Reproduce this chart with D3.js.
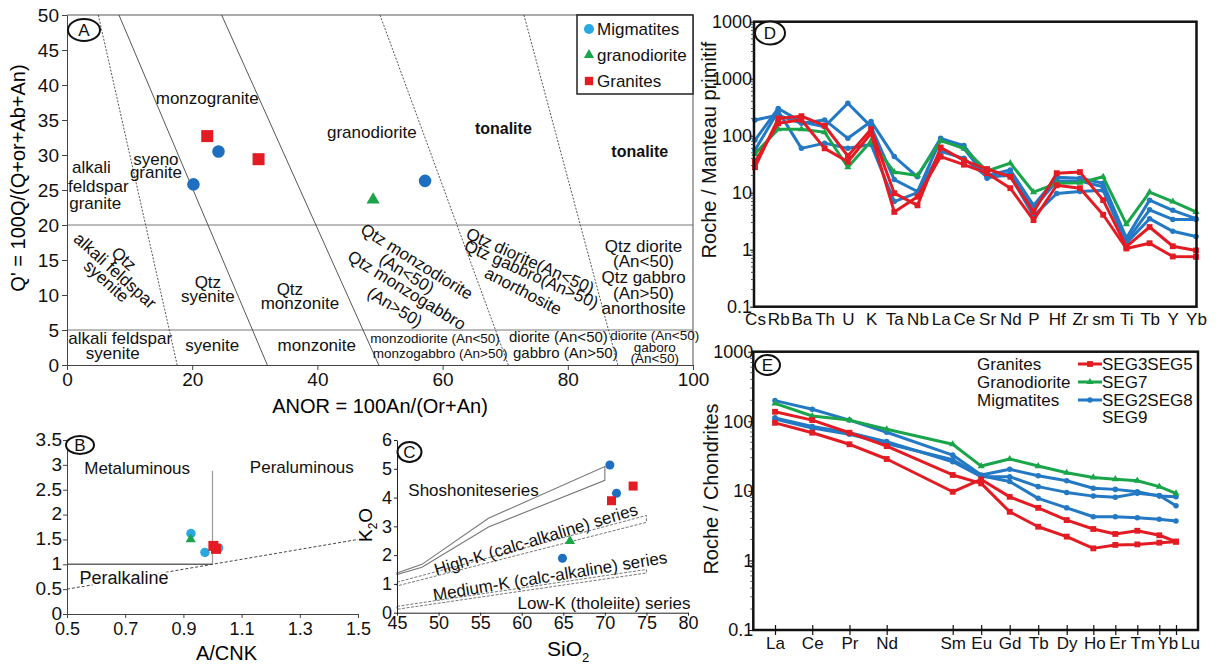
<!DOCTYPE html>
<html>
<head>
<meta charset="utf-8">
<script src="https://cdn.jsdelivr.net/npm/d3@7"></script>
<style>
  body { margin: 0; background: #fff; }
  svg { display: block; }
</style>
</head>
<body>
<svg width="1222" height="667"></svg>
<script>
// ---------- data ----------
// A : ANOR vs Q'
const anorTicks = [0, 20, 40, 60, 80, 100];
const qTicks = [0, 5, 10, 15, 20, 25, 30, 35, 40, 45, 50];
const legendA = ["Migmatites", "granodiorite", "Granites"];
const migAnor = [20.2, 24.2, 57.2];
const migQ = [25.8, 30.5, 26.3];
const grdAnor = [48.9];
const grdQ = [23.6];
const graAnor = [22.4, 30.6];
const graQ = [32.7, 29.4];
// field boundaries : anor at Q'=50, Q'=50, anor at Q'=0, Q'=0
const fieldLinesA = [[5, 50, 17.6, 0], [8.3, 50, 32, 0], [24.7, 50, 49.8, 0], [50, 50, 70.5, 0], [73, 50, 88, 0]];
const qLevelsA = [20, 5];

// B : A/CNK vs A/NK
const acnkTicks = [0.5, 0.7, 0.9, 1.1, 1.3, 1.5];
const ankTicks = [0, 0.5, 1, 1.5, 2, 2.5, 3, 3.5];
const migAcnk = [0.926, 0.974, 1.021];
const migAnk = [1.62, 1.24, 1.33];
const grdAcnk = [0.925];
const grdAnk = [1.5];
const graAcnk = [1.003, 1.012];
const graAnk = [1.37, 1.31];

// C : SiO2 vs K2O
const sioTicks = [45, 50, 55, 60, 65, 70, 75, 80];
const k2oTicks = [0, 1, 2, 3, 4, 5, 6];
const migSio = [70.6, 71.4, 64.9];
const migK = [5.13, 4.15, 1.89];
const grdSio = [65.8];
const grdK = [2.49];
const graSio = [70.8, 73.4];
const graK = [3.89, 4.4];
const shoshBand = [[45, 1.38], [48, 1.68], [56, 3.28], [70, 5.08], [70, 4.6], [56, 2.98], [48, 1.58], [45, 1.33]];
const highKBand = [[45, 1.06], [75, 3.38], [75, 3.14], [45, 0.93]];
const medKBand = [[45, 0.22], [75, 1.5], [75, 1.38], [45, 0.12]];

// D : primitive-mantle normalised spider diagram
const spiderElems = ["Cs", "Rb", "Ba", "Th", "U", "K", "Ta", "Nb", "La", "Ce", "Sr", "Nd", "P", "Hf", "Zr", "sm", "Ti", "Tb", "Y", "Yb"];
const spiderTickVals = [0.1, 1, 10, 100, 1000, 10000];
const spiderTickLabels = ["0.1", "1", "10", "100", "1000", "1000"];
const seg3D = [28, 200, 220, 150, 44, 130, 9.8, 6, 62, 37, 26, 19, 4.6, 22, 23, 7.4, 1.13, 2.5, 1.15, 0.97];
const seg5D = [35, 165, 190, 60, 35, 110, 4.6, 8.5, 43, 31, 22, 12, 3.3, 13.5, 12, 4.1, 1.05, 1.3, 0.76, 0.75];
const seg7D = [48, 130, 130, 115, 28, 80, 23, 20, 82, 60, 24, 33, 10.2, 14.6, 15, 19, 2.8, 10.2, 7, 4.6];
const seg2D = [188, 230, 165, 189, 90, 178, 43, 19, 90, 67, 20, 25, 6, 18.6, 18, 14.6, 1.6, 7.4, 4.9, 3.5];
const seg8D = [84, 300, 175, 144, 370, 144, 17, 10.5, 85, 60, 18, 22, 5.3, 16, 16, 12.7, 1.4, 5, 3.4, 3.4];
const seg9D = [56, 270, 60, 74, 60, 70, 7, 10, 53, 40, 19, 20, 3.9, 9.7, 10.5, 11, 1.3, 3.5, 2.1, 1.7];

// E : chondrite-normalised REE
const reeElems = ["La", "Ce", "Pr", "Nd", "Sm", "Eu", "Gd", "Tb", "Dy", "Ho", "Er", "Tm", "Yb", "Lu"];
const reeTickVals = [0.1, 1, 10, 100, 1000];
const seg3E = [137, 104, 68.5, 44, 16.9, 12.8, 5.0, 3.05, 2.2, 1.49, 1.67, 1.7, 1.8, 1.86];
const seg5E = [95, 68.5, 46.7, 28.7, 9.7, 14.6, 8.2, 5.7, 3.8, 2.83, 2.4, 2.67, 2.3, 1.86];
const seg7E = [181, 119, 104, 76.7, 46.7, 22.7, 28.7, 22.7, 18.2, 15.6, 14.7, 14, 11.5, 9.2];
const seg2E = [198, 149, 104, 69.5, 32.7, 16.9, 20.4, 16.5, 14, 10.9, 10.5, 9.7, 8.4, 8.2];
const seg8E = [112, 84, 68.5, 51, 26.2, 16, 16, 11.5, 9.5, 8.4, 8.1, 9.2, 8.6, 6.1];
const seg9E = [108, 80, 65, 48, 28, 16.5, 13.6, 7.8, 5.7, 4.25, 4.25, 4.1, 3.9, 3.7];
const groupNamesE = ["Granites", "Granodiorite", "Migmatites"];
const groupSamplesE = ["SEG3SEG5", "SEG7", "SEG2SEG8"];
const extraSampleE = "SEG9";

// ---------- helpers ----------
const FONT = "'Liberation Sans', Arial, Helvetica, sans-serif";
const C_MIG = "#1f6fc1";
const C_MIG_LT = "#2aa8e0";
const C_GRD = "#1aa54b";
const C_GRA = "#e31b23";
const C_MIG_LINE = "#2479c5";

let svg = d3.select("svg").attr("font-family", FONT);
svg.append("rect").attr("width", 1222).attr("height", 667).attr("fill", "#fff");

let sym = (g, type, x, y, size, color) => g.append("path")
    .attr("d", d3.symbol().type(type).size(size)())
    .attr("transform", "translate(" + x + "," + y + ")")
    .attr("fill", color);

let label = (g, str, x, y, size, rot, weight) => g.append("text")
    .attr("transform", "translate(" + x + "," + y + ") rotate(" + (rot || 0) + ")")
    .attr("text-anchor", "middle")
    .attr("dy", "0.35em")
    .attr("font-size", size)
    .attr("font-weight", weight || "normal")
    .attr("fill", "#111")
    .text(str);

let badge = (g, letter, x, y, rx, ry) => {
    g.append("ellipse").attr("cx", x).attr("cy", y).attr("rx", rx).attr("ry", ry)
        .attr("fill", "#fff").attr("stroke", "#111").attr("stroke-width", 2);
    label(g, letter, x, y, 17);
};

let styleAxis = (g, size, col) => {
    g.attr("font-family", FONT).attr("font-size", size);
    g.selectAll("text").attr("fill", "#111");
    g.selectAll(".domain, .tick line").attr("stroke", col || "#444");
};

let scatter = (g, xs, ys, type, size, color, x, y) => {
    xs.forEach((v, i) => sym(g, type, x(v), y(ys[i]), size, color));
};

// ---------- panel A ----------
let drawA = () => {
    let x = d3.scaleLinear().domain([0, 100]).range([67, 693]);
    let y = d3.scaleLinear().domain([0, 50]).range([365, 15]);
    let g = svg.append("g");

    g.append("path")
        .attr("d", d3.line()([[x(0), y(50)], [x(100), y(50)], [x(100), y(0)]]))
        .attr("fill", "none").attr("stroke", "#555");

    g.selectAll(".qlev").data(qLevelsA).enter().append("line")
        .attr("x1", x(0)).attr("x2", x(100))
        .attr("y1", d => y(d)).attr("y2", d => y(d))
        .attr("stroke", "#777");

    g.selectAll(".field").data(fieldLinesA).enter().append("line")
        .attr("x1", d => x(d[0])).attr("y1", d => y(d[1]))
        .attr("x2", d => x(d[2])).attr("y2", d => y(d[3]))
        .attr("stroke", "#444").attr("stroke-width", 0.9)
        .attr("stroke-dasharray", (d, i) => (i === 0 || i >= 3) ? "2,1.5" : null);

    let ax = g.append("g").attr("transform", "translate(0," + y(0) + ")")
        .call(d3.axisBottom(x).tickValues(anorTicks).tickSize(5).tickSizeOuter(0).tickPadding(3));
    styleAxis(ax, 19);
    let ay = g.append("g").attr("transform", "translate(" + x(0) + ",0)")
        .call(d3.axisLeft(y).tickValues(qTicks).tickSize(5).tickSizeOuter(0).tickPadding(3));
    styleAxis(ay, 19);

    g.append("text").attr("x", 380).attr("y", 413).attr("text-anchor", "middle")
        .attr("font-size", 20).text("ANOR = 100An/(Or+An)");
    g.append("text").attr("transform", "translate(25,178) rotate(-90)").attr("text-anchor", "middle")
        .attr("font-size", 20).text("Q' = 100Q/(Q+or+Ab+An)");

    // field names
    let names = [
        ["monzogranite", 22.4, 38.1, 17, 0], ["syeno", 14.2, 29.4, 17, 0], ["granite", 14.2, 27.5, 17, 0],
        ["alkali", 3.9, 28.3, 17, 0], ["feldspar", 5.0, 25.5, 17, 0], ["granite", 4.5, 23.2, 17, 0],
        ["granodiorite", 48.7, 33.3, 17, 0],
        ["Qtz", 9.1, 15.2, 17, 42], ["alkali feldspar", 7.7, 13.5, 17, 42], ["syenite", 6.3, 12.0, 17, 42],
        ["Qtz", 22.5, 11.9, 17, 0], ["syenite", 22.5, 9.8, 17, 0],
        ["Qtz", 35.6, 10.9, 17, 0], ["monzonite", 37.2, 8.8, 17, 0],
        ["alkali feldspar", 8.5, 3.8, 17, 0], ["syenite", 7.3, 1.7, 17, 0],
        ["syenite", 23.2, 2.9, 17, 0], ["monzonite", 39.9, 2.9, 17, 0],
        ["Qtz monzodiorite", 55.9, 14.8, 17, 31.8], ["(An<50)", 54.3, 13.1, 17, 31.8],
        ["Qtz monzogabbro", 54.3, 10.7, 17, 31.8], ["(An>50)", 52.4, 8.3, 17, 31.8],
        ["Qtz diorite(An<50)", 74.0, 14.9, 17, 24.2], ["Qtz gabbro(An>50)", 74.2, 13.0, 17, 24.2],
        ["anorthosite", 72.9, 10.6, 17, 27.5],
        ["Qtz diorite", 92.1, 17.0, 17, 0], ["(An<50)", 92.1, 14.8, 17, 0], ["Qtz gabbro", 92.1, 12.6, 17, 0],
        ["(An>50)", 92.1, 10.3, 17, 0], ["anorthosite", 92.1, 8.1, 17, 0],
        ["monzodiorite (An<50)", 58.8, 3.8, 13.5, 0], ["monzogabbro (An>50)", 59.6, 1.7, 13.5, 0],
        ["diorite (An<50)", 78.5, 4.0, 15, 0], ["gabbro (An>50)", 79.6, 1.8, 15, 0],
        ["diorite (An<50)", 93.9, 4.3, 13.5, 0], ["gaboro", 93.9, 2.6, 13.5, 0], ["(An<50)", 93.9, 1.0, 13.5, 0]
    ];
    names.forEach(n => label(g, n[0], x(n[1]), y(n[2]), n[3], n[4]));
    label(g, "tonalite", x(69.7), y(33.8), 16, 0, "bold");
    label(g, "tonalite", x(91.5), y(30.5), 16, 0, "bold");

    scatter(g, migAnor, migQ, d3.symbolCircle, 124, C_MIG, x, y);
    scatter(g, grdAnor, grdQ, d3.symbolTriangle, 75, C_GRD, x, y);
    scatter(g, graAnor, graQ, d3.symbolSquare, 144, C_GRA, x, y);

    // legend
    let lg = g.append("g");
    lg.append("rect").attr("x", 577).attr("y", 15).attr("width", 116).attr("height", 79)
        .attr("fill", "#fff").attr("stroke", "#222").attr("stroke-width", 1.5);
    let shapes = [[d3.symbolCircle, 80, C_MIG_LT], [d3.symbolTriangle, 45, C_GRD], [d3.symbolSquare, 70, C_GRA]];
    legendA.forEach((name, i) => {
        sym(lg, shapes[i][0], 589, 29 + i * 26, shapes[i][1], shapes[i][2]);
        lg.append("text").attr("x", 597).attr("y", 35 + i * 26).attr("font-size", 17).attr("fill", "#111").text(name);
    });

    badge(g, "A", 84, 30, 16, 11);
};

// ---------- panel B ----------
let drawB = () => {
    let x = d3.scaleLinear().domain([0.5, 1.5]).range([67, 358]);
    let y = d3.scaleLinear().domain([0, 3.5]).range([614, 440]);
    let g = svg.append("g");

    g.append("line").attr("x1", x(0.5)).attr("x2", x(1)).attr("y1", y(1)).attr("y2", y(1))
        .attr("stroke", "#666").attr("stroke-width", 1.6);
    g.append("line").attr("x1", x(1)).attr("x2", x(1)).attr("y1", y(1)).attr("y2", y(2.88))
        .attr("stroke", "#999").attr("stroke-width", 1.2);
    g.append("line").attr("x1", x(0.5)).attr("x2", x(1.5)).attr("y1", y(0.5)).attr("y2", y(1.5))
        .attr("stroke", "#444").attr("stroke-width", 1).attr("stroke-dasharray", "3,2");

    let ax = g.append("g").attr("transform", "translate(0," + y(0) + ")")
        .call(d3.axisBottom(x).tickValues(acnkTicks).tickFormat(d3.format(".1f")).tickSize(4).tickSizeOuter(0).tickPadding(4));
    styleAxis(ax, 18);
    let ay = g.append("g").attr("transform", "translate(" + x(0.5) + ",0)")
        .call(d3.axisLeft(y).tickValues(ankTicks).tickFormat(d3.format("")).tickSize(4).tickSizeOuter(0).tickPadding(1));
    styleAxis(ay, 19);
    ay.selectAll(".tick text").attr("dy", "0.28em");

    label(g, "Metaluminous", x(0.741), y(2.94), 17);
    label(g, "Peraluminous", x(1.307), y(2.96), 17);
    label(g, "Peralkaline", x(0.696), y(0.74), 18)
        .attr("stroke", "#fff").attr("stroke-width", 4).attr("paint-order", "stroke");
    g.append("text").attr("x", x(1.0) + 14).attr("y", 660).attr("text-anchor", "middle")
        .attr("font-size", 20).text("A/CNK");

    scatter(g, migAcnk, migAnk, d3.symbolCircle, 70, C_MIG_LT, x, y);
    scatter(g, grdAcnk, grdAnk, d3.symbolTriangle, 45, C_GRD, x, y);
    scatter(g, graAcnk, graAnk, d3.symbolSquare, 100, C_GRA, x, y);

    badge(g, "B", 80, 445, 14, 9);
};

// ---------- panel C ----------
let drawC = () => {
    let x = d3.scaleLinear().domain([45, 80]).range([397, 688]);
    let y = d3.scaleLinear().domain([0, 6]).range([612.7, 440]);
    let g = svg.append("g");
    let poly = d3.line().x(d => x(d[0])).y(d => y(d[1])).curve(d3.curveLinearClosed);

    g.append("path").attr("d", poly(shoshBand)).attr("fill", "none").attr("stroke", "#777").attr("stroke-width", 1.1);
    g.append("path").attr("d", poly(highKBand)).attr("fill", "none").attr("stroke", "#666")
        .attr("stroke-width", 0.9).attr("stroke-dasharray", "3,1.5");
    g.append("path").attr("d", poly(medKBand)).attr("fill", "none").attr("stroke", "#666")
        .attr("stroke-width", 0.9).attr("stroke-dasharray", "3,1.5");

    let ax = g.append("g").attr("transform", "translate(0," + y(0) + ")")
        .call(d3.axisBottom(x).tickValues(sioTicks).tickFormat(d3.format("d")).tickSize(3).tickSizeOuter(0).tickPadding(1));
    styleAxis(ax, 18, "#222");
    let ay = g.append("g").attr("transform", "translate(" + x(45) + ",0)")
        .call(d3.axisLeft(y).tickValues(k2oTicks).tickFormat(d3.format("d")).tickSize(3).tickSizeOuter(0).tickPadding(2));
    styleAxis(ay, 18, "#222");

    label(g, "Shoshoniteseries", x(54.2), y(4.26), 17);
    label(g, "High-K (calc-alkaline) series", x(61.7), y(2.55), 17, -16.8);
    label(g, "Medium-K (calc-alkaline) series", x(63.4), y(1.28), 17, -9.2);
    label(g, "Low-K (tholeiite) series", x(69.9), y(0.33), 17);

    let sx = g.append("text").attr("x", 547).attr("y", 656).attr("font-size", 21).text("SiO");
    sx.append("tspan").attr("font-size", 13).attr("dy", 6).text("2");
    let ky = g.append("text").attr("transform", "translate(372,542) rotate(-90)").attr("font-size", 19).text("K");
    ky.append("tspan").attr("font-size", 12).attr("dy", 5).text("2");
    ky.append("tspan").attr("dy", -5).text("O");

    scatter(g, migSio, migK, d3.symbolCircle, 64, C_MIG, x, y);
    scatter(g, grdSio, grdK, d3.symbolTriangle, 45, C_GRD, x, y);
    scatter(g, graSio, graK, d3.symbolSquare, 81, C_GRA, x, y);

    badge(g, "C", 409.5, 452, 12, 10);
};

// ---------- shared for D / E ----------
let minorTicks = (g, y, x0) => {
    let minors = y.ticks().filter(v => Math.abs(Math.log10(v) - Math.round(Math.log10(v))) > 1e-6);
    g.selectAll(".minor").data(minors).enter().append("line")
        .attr("x1", x0 - 3).attr("x2", x0).attr("y1", d => y(d)).attr("y2", d => y(d))
        .attr("stroke", "#333").attr("stroke-width", 0.8);
};

let drawSeries = (g, list, x, y, cats) => {
    let line = d3.line().x((d, i) => x(cats[i])).y(d => y(d));
    list.forEach(s => {
        g.append("path").attr("d", line(s.v)).attr("fill", "none")
            .attr("stroke", s.c).attr("stroke-width", 3).attr("stroke-linejoin", "round");
        s.v.forEach((v, i) => sym(g, s.t, x(cats[i]), y(v), s.z, s.c));
    });
};

// ---------- panel D ----------
let drawD = () => {
    let x = d3.scalePoint().domain(spiderElems).range([755, 1196]);
    let y = d3.scaleLog().domain([0.1, 10000]).range([306.7, 21.7]);
    let g = svg.append("g");

    drawSeries(g, [
        { v: seg2D, c: C_MIG_LINE, t: d3.symbolCircle, z: 24 },
        { v: seg8D, c: C_MIG_LINE, t: d3.symbolCircle, z: 24 },
        { v: seg9D, c: C_MIG_LINE, t: d3.symbolCircle, z: 24 },
        { v: seg7D, c: C_GRD, t: d3.symbolTriangle, z: 22 },
        { v: seg3D, c: C_GRA, t: d3.symbolSquare, z: 34 },
        { v: seg5D, c: C_GRA, t: d3.symbolSquare, z: 34 }
    ], x, y, spiderElems);

    g.append("rect").attr("x", 754).attr("y", 21.7).attr("width", 442.5).attr("height", 285)
        .attr("fill", "none").attr("stroke", "#111").attr("stroke-width", 2.5);
    minorTicks(g, y, 754);

    let ay = g.append("g").attr("transform", "translate(754,0)")
        .call(d3.axisLeft(y).tickValues(spiderTickVals).tickFormat((d, i) => spiderTickLabels[i])
            .tickSize(4).tickSizeOuter(0).tickPadding(-2));
    styleAxis(ay, 18, "#111");
    ay.select(".domain").remove();

    let ax = g.append("g").attr("transform", "translate(0,306.7)")
        .call(d3.axisBottom(x).tickSize(0).tickPadding(6));
    styleAxis(ax, 17, "#111");
    ax.select(".domain").remove();

    g.append("text").attr("transform", "translate(716,150) rotate(-90)").attr("text-anchor", "middle")
        .attr("font-size", 20).attr("fill", "#111").text("Roche / Manteau primitif");

    badge(g, "D", 770, 33, 15, 11.5);
};

// ---------- panel E ----------
let drawE = () => {
    let slot = d3.scaleOrdinal().domain(reeElems).range([0, 1, 2, 3, 5, 6, 7, 8, 9, 10, 11, 12, 13, 14]);
    let warp = d3.scaleLinear().domain([0, 3, 5, 9, 10, 13, 14]).range([775, 886.7, 952.7, 1066.7, 1093.3, 1159.3, 1176]);
    let x = d3.scaleOrdinal().domain(reeElems).range(reeElems.map(e => warp(slot(e))));
    let y = d3.scaleLog().domain([0.1, 1000]).range([630, 351.7]);
    let g = svg.append("g");

    drawSeries(g, [
        { v: seg2E, c: C_MIG_LINE, t: d3.symbolCircle, z: 24 },
        { v: seg8E, c: C_MIG_LINE, t: d3.symbolCircle, z: 24 },
        { v: seg9E, c: C_MIG_LINE, t: d3.symbolCircle, z: 24 },
        { v: seg7E, c: C_GRD, t: d3.symbolTriangle, z: 22 },
        { v: seg3E, c: C_GRA, t: d3.symbolSquare, z: 34 },
        { v: seg5E, c: C_GRA, t: d3.symbolSquare, z: 34 }
    ], x, y, reeElems);

    g.append("rect").attr("x", 753.3).attr("y", 351.7).attr("width", 444.7).attr("height", 278.3)
        .attr("fill", "none").attr("stroke", "#111").attr("stroke-width", 2.5);
    minorTicks(g, y, 753.3);

    let ay = g.append("g").attr("transform", "translate(753.3,0)")
        .call(d3.axisLeft(y).tickValues(reeTickVals).tickFormat(d3.format("~g"))
            .tickSize(5).tickSizeOuter(0).tickPadding(-5));
    styleAxis(ay, 18, "#111");
    ay.select(".domain").remove();

    let ax = g.append("g").attr("transform", "translate(0,630)")
        .call(d3.axisBottom(x).tickSize(5).tickSizeOuter(0).tickPadding(2));
    styleAxis(ax, 17, "#111");
    ax.select(".domain").remove();
    ax.selectAll(".tick line").attr("y1", -5).attr("stroke-width", 1.2);
    // the heavy-REE labels are packed edge to edge, nudged right of their ticks
    let nudge = { Ho: 1, Er: 2, Tm: 5, Yb: 8, Lu: 14 };
    ax.selectAll(".tick text").attr("dx", d => nudge[d] || 0);

    g.append("text").attr("transform", "translate(718,489) rotate(-90)").attr("text-anchor", "middle")
        .attr("font-size", 20).attr("fill", "#111").text("Roche / Chondrites");

    // legend
    let cols = [C_GRA, C_GRD, C_MIG_LINE];
    let shapes = [[d3.symbolSquare, 34], [d3.symbolTriangle, 22], [d3.symbolCircle, 24]];
    groupNamesE.forEach((name, i) => {
        let yy = 364 + i * 18;
        g.append("text").attr("x", 977).attr("y", yy + 6).attr("font-size", 17).attr("fill", "#111").text(name);
        g.append("line").attr("x1", 1078).attr("x2", 1102).attr("y1", yy).attr("y2", yy)
            .attr("stroke", cols[i]).attr("stroke-width", 3);
        sym(g, shapes[i][0], 1090, yy, shapes[i][1], cols[i]);
        g.append("text").attr("x", 1102).attr("y", yy + 6).attr("font-size", 17).attr("fill", "#111").text(groupSamplesE[i]);
    });
    g.append("text").attr("x", 1102).attr("y", 364 + 3 * 17.5 + 6).attr("font-size", 17).attr("fill", "#111").text(extraSampleE);

    badge(g, "E", 767.5, 365, 12.5, 10);
};

drawA();
drawB();
drawC();
drawD();
drawE();
</script>
</body>
</html>
